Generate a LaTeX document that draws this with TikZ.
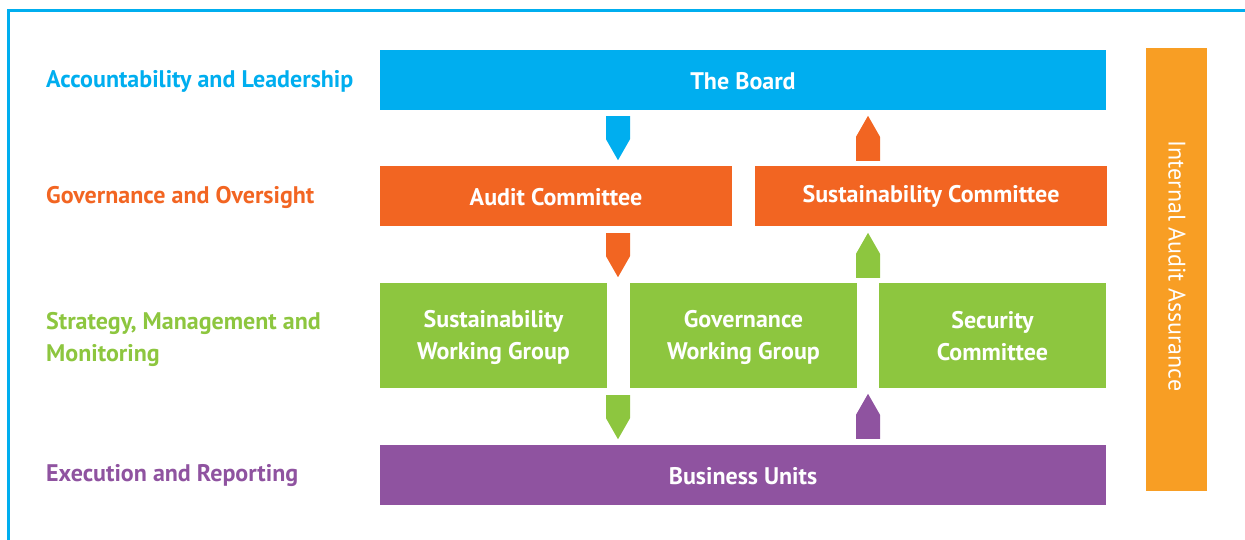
\documentclass[tikz,border=0pt]{standalone}
\usepackage{fontspec}
\setmainfont{PT Sans}
\usetikzlibrary{calc}

\definecolor{cBlue}{RGB}{0,174,239}
\definecolor{cRed}{RGB}{242,101,34}
\definecolor{cGreen}{RGB}{141,198,63}
\definecolor{cPurple}{RGB}{143,83,160}
\definecolor{cOrange}{RGB}{248,158,36}

\tikzset{
  box/.style={rectangle, inner sep=0pt, text=white, align=center,
    font=\fontsize{24}{32}\selectfont\bfseries},
  boxtext/.style={inner sep=0pt, text=white, align=center,
    font=\fontsize{24}{32}\selectfont\bfseries},
  level/.style={anchor=west, inner sep=0pt, align=left,
    font=\fontsize{24}{32}\selectfont\bfseries}
}

% block arrows: origin at the flat end, pointing down or up
\newcommand\blockdown[2]{%
  \fill[#2, shift={#1}] (-12,0) -- (12,0) -- (12,23) -- (0,44) -- (-12,23) -- cycle;}
\newcommand\blockup[2]{%
  \fill[#2, shift={#1}] (-12,0) -- (12,0) -- (12,-24) -- (0,-45) -- (-12,-24) -- cycle;}

\begin{document}
\begin{tikzpicture}[x=1pt,y=-1pt]
\useasboundingbox (0,0) rectangle (1245,539);

% frame
\draw[cBlue, line width=2.5pt] (8.5,540) -- (8.5,10.5) -- (1246,10.5);

% boxes
\node[box, fill=cBlue, minimum width=726, minimum height=60] (board) at (743,80) {};
\node[boxtext] at ($(board.center)+(0,1)$) {The Board};
\node[box, fill=cRed, minimum width=352, minimum height=60] (audit) at (556,196) {};
\node[boxtext] at ($(audit.center)+(0,1)$) {Audit Committee};
\node[box, fill=cRed, minimum width=352, minimum height=60] (sust) at (931,196) {};
\node[boxtext] at ($(sust.center)+(0,0)$) {Sustainability Committee};
\node[box, fill=cGreen, minimum width=227, minimum height=105] (swg) at (493.5,335.5) {};
\node[boxtext] at ($(swg.center)+(0,2)$) {Sustainability\\Working Group};
\node[box, fill=cGreen, minimum width=227, minimum height=105] (gwg) at (743.5,335.5) {};
\node[boxtext] at ($(gwg.center)+(0,2)$) {Governance\\Working Group};
\node[box, fill=cGreen, minimum width=227, minimum height=105] (sec) at (992.5,335.5) {};
\node[boxtext] at ($(sec.center)+(0,1)$) {Security\\Committee};
\node[box, fill=cPurple, minimum width=726, minimum height=60] (bu) at (743,475) {};
\node[boxtext] at ($(bu.center)+(0,1)$) {Business Units};
\node[box, fill=cOrange, minimum width=61, minimum height=443] (iaa) at (1176.5,269.5) {};
\node[boxtext, rotate=-90, font=\fontsize{24}{28}\selectfont] (iaat) at (1177,266) {Internal Audit Assurance};

% level labels
\node[level, text=cBlue] (l1) at (46,81) {Accountability and Leadership};
\node[level, text=cRed] (l2) at (46,197) {Governance and Oversight};
\node[level, text=cGreen] (l3) at (46,339) {Strategy, Management and\\Monitoring};
\node[level, text=cPurple] (l4) at (46,476) {Execution and Reporting};

% arrow lanes
\coordinate (lanel) at (618,0);
\coordinate (laner) at (868,0);

% downward flow
\blockdown{($(board.south -| lanel)+(0,6)$)}{cBlue}
\blockdown{($(audit.south -| lanel)+(0,7)$)}{cRed}
\blockdown{($(swg.south -| lanel)+(0,7)$)}{cGreen}

% upward flow
\blockup{($(sust.north -| laner)+(0,-5)$)}{cRed}
\blockup{($(sec.north -| laner)+(0,-5)$)}{cGreen}
\blockup{($(bu.north -| laner)+(0,-6)$)}{cPurple}

\end{tikzpicture}
\end{document}
